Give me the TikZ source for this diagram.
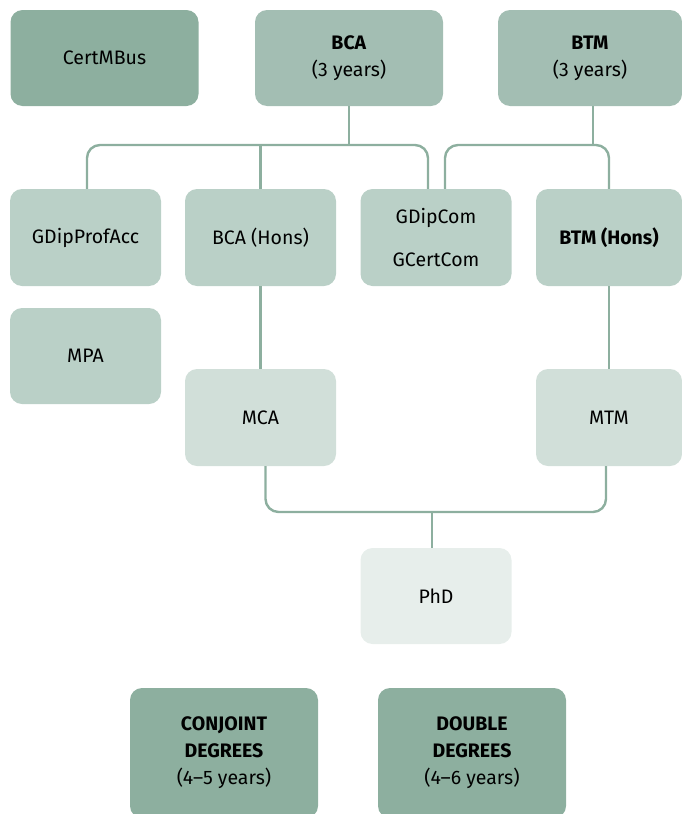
\documentclass[tikz,border=0pt]{standalone}
\usepackage{fontspec}
\setmainfont{Fira Sans}
\usepackage{tikz}
\usetikzlibrary{positioning}

\definecolor{gdark}{HTML}{8DAF9F}
\definecolor{gmid}{HTML}{A3BEB3}
\definecolor{glight}{HTML}{BAD0C7}
\definecolor{gpale}{HTML}{D1DFD9}
\definecolor{gwhite}{HTML}{E7EEEB}

\tikzset{
  degbox/.style={rectangle, rounded corners=12pt, draw=none, align=center,
    font=\fontsize{19.5}{27}\selectfont, text=black},
  wide/.style={degbox, minimum width=188pt, minimum height=96pt},
  narrow/.style={degbox, minimum width=151pt, minimum height=97pt},
  link/.style={draw=gdark, line width=2.4pt, rounded corners=13pt}
}

\begin{document}
\begin{tikzpicture}[x=1pt,y=-1pt]
\useasboundingbox (0,0) rectangle (681,814);

% top row
\node[wide, fill=gdark] (cert) at (104.5,58) {CertMBus};
\node[wide, fill=gmid] (bca) at (349,58) {\textbf{BCA}\\(3 years)};
\node[wide, fill=gmid, minimum width=184pt] (btm) at (590,58) {\textbf{BTM}\\(3 years)};

% second row
\node[narrow, fill=glight] (gdpa) at (85.5,237.5) {GDipProfAcc};
\node[narrow, fill=glight] (bcah) at (260.5,237.5) {BCA (Hons)};
\node[narrow, fill=glight, font=\fontsize{19.5}{43}\selectfont] (gdc) at (436,237.5) {GDipCom\\GCertCom};
\node[narrow, fill=glight, minimum width=146pt] (btmh) at (609,237.5) {\textbf{BTM (Hons)}};

% masters
\node[narrow, fill=glight, minimum height=96pt] (mpa) at (85.5,356) {MPA};
\node[narrow, fill=gpale] (mca) at (260.5,417.5) {MCA};
\node[narrow, fill=gpale, minimum width=146pt] (mtm) at (609,417.5) {MTM};

% doctorate
\node[narrow, fill=gwhite, minimum height=96pt] (phd) at (436,596) {PhD};

% combined degrees
\node[wide, fill=gdark, minimum height=130pt] (conj) at (224,753) {\textbf{CONJOINT}\\\textbf{DEGREES}\\(4--5 years)};
\node[wide, fill=gdark, minimum height=130pt] (dbl) at (472,753) {\textbf{DOUBLE}\\\textbf{DEGREES}\\(4--6 years)};

% connectors
\coordinate (bcabus) at (349,145);
\coordinate (btmbus) at (593,145);
\coordinate (phdbus) at (432,512);

\draw[link] (bca.south) -- (bcabus);
\draw[link] ([xshift=1.5pt]gdpa.north) |- ([xshift=-8pt]gdc.north |- bcabus) -- ([xshift=-8pt]gdc.north);
\draw[link] (bcah.north) -- (bcah.north |- bcabus);
\draw[link] (btm.south -| btmbus) -- (btmbus);
\draw[link] ([xshift=9pt]gdc.north) |- (btmh.north |- btmbus) -- (btmh.north);

\draw[link] (bcah.south) -- (mca.north);
\draw[link] (btmh.south) -- (mtm.north);
\draw[link] ([xshift=5pt]mca.south) |- ([xshift=-3pt]mtm.south |- phdbus) -- ([xshift=-3pt]mtm.south);
\draw[link] (phdbus) -- (phd.north -| phdbus);
\end{tikzpicture}
\end{document}
